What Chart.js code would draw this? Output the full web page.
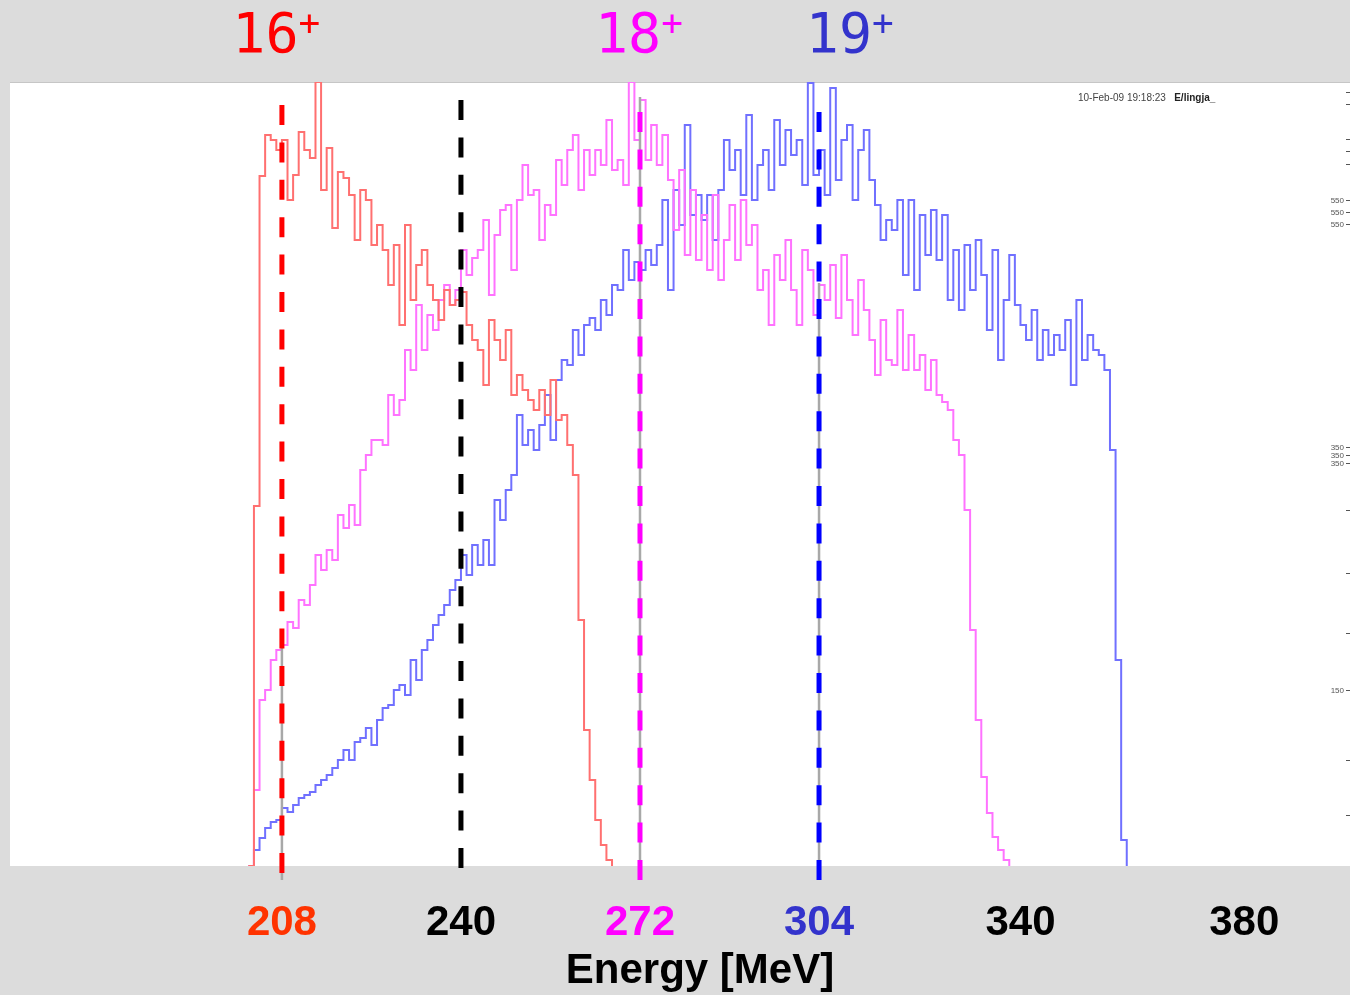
<!DOCTYPE html>
<html>
<head>
<meta charset="utf-8">
<title>Energy spectra 16+ 18+ 19+</title>
<script src="https://cdn.jsdelivr.net/npm/chart.js@4.4.1/dist/chart.umd.min.js"></script>
<style>
  html, body { margin: 0; padding: 0; background: #dcdcdc; }
  #wrap { width: 1350px; height: 995px; position: relative; }
</style>
</head>
<body>
<div id="wrap"><canvas id="chart"></canvas></div>
<script>
// Histograms use 1 MeV bins, the first bin starts at 202 MeV
const binStart = 202;

// 16+ (red)
const counts16 = [
  0, 360, 690, 731, 726, 716, 726, 666, 691, 734,
  716, 708, 784, 676, 718, 638, 694, 688, 671, 626,
  676, 666, 621, 641, 616, 581, 621, 541, 641, 566,
  601, 616, 581, 566, 546, 576, 561, 566, 574, 541,
  526, 516, 481, 546, 526, 506, 536, 471, 491, 476,
  466, 456, 476, 451, 486, 446, 451, 421, 391, 246,
  136, 86, 46, 21, 6, 0
];

// 18+ (magenta)
const counts18 = [
  0, 76, 166, 176, 206, 216, 221, 244, 238, 266,
  261, 281, 311, 296, 316, 306, 351, 338, 361, 341,
  396, 411, 426, 426, 421, 471, 451, 466, 516, 496,
  561, 516, 551, 536, 566, 581, 561, 576, 616, 591,
  608, 616, 646, 571, 631, 656, 661, 596, 666, 701,
  671, 676, 626, 661, 651, 706, 681, 716, 731, 676,
  716, 691, 716, 701, 746, 696, 706, 681, 784, 726,
  766, 706, 741, 701, 731, 686, 636, 696, 611, 676,
  606, 651, 596, 671, 586, 626, 661, 606, 666, 621,
  641, 576, 596, 541, 611, 586, 626, 576, 541, 616,
  596, 551, 581, 566, 601, 548, 611, 566, 531, 586,
  556, 526, 491, 546, 506, 501, 556, 496, 531, 496,
  511, 476, 506, 471, 464, 456, 426, 411, 356, 236,
  146, 89, 53, 29, 16, 6, 0
];

// 19+ (blue)
const counts19 = [
  0, 16, 28, 38, 44, 46, 58, 54, 61, 68,
  71, 74, 81, 86, 91, 98, 106, 116, 106, 124,
  128, 138, 121, 146, 158, 161, 176, 181, 171, 206,
  186, 216, 226, 241, 251, 261, 276, 286, 311, 291,
  321, 301, 326, 301, 366, 346, 376, 391, 451, 421,
  436, 416, 441, 471, 426, 486, 506, 501, 536, 511,
  541, 548, 536, 566, 551, 581, 576, 616, 586, 604,
  596, 616, 601, 621, 666, 576, 676, 641, 741, 651,
  671, 646, 671, 626, 676, 726, 696, 716, 671, 751,
  666, 701, 716, 676, 746, 701, 736, 711, 726, 681,
  783, 691, 716, 671, 778, 686, 726, 741, 666, 716,
  736, 686, 661, 626, 646, 636, 666, 591, 666, 576,
  651, 611, 656, 606, 651, 566, 616, 556, 621, 576,
  626, 591, 536, 616, 506, 566, 611, 561, 541, 526,
  556, 506, 536, 511, 531, 516, 546, 481, 566, 506,
  531, 516, 511, 496, 416, 206, 26, 0
];

// Charge state labels above the plot
const chargeStates = ["16", "18", "19"];
const chargeColors = ["#ff0000", "#ff00ff", "#3333cc"];
const chargeLabelEnergy = [207.0, 271.8, 309.5];

// Energy axis ticks
const tickEnergies = [208, 240, 272, 304, 340, 380];
const tickColors = ["#ff3300", "#000000", "#ff00ff", "#3333cc", "#000000", "#000000"];

// Dashed markers (energy, colour, bottom and top in counts)
const markerEnergies = [208, 240, 272, 304];
const markerColors = ["#ff0000", "#000000", "#ff00ff", "#0000ff"];
const markerBottoms = [-7, -2, -14, -14];
const markerTops = [778, 766, 771, 771];

// Grey cursor lines under the markers
const cursorEnergies = [208, 272, 304];
const cursorTops = [226, 769, 583];

// Little ticks on the right edge of the old plot
const sideTickCounts = [774, 762, 727, 715, 702, 666, 654, 642, 419, 411, 403, 356, 293, 233, 176, 106, 51];
const sideTickLabels = ["", "", "", "", "", "550", "550", "550", "350", "350", "350", "", "", "", "150", "", ""];

const stampText = "10-Feb-09 19:18:23";
const stampUser = "E/lingja_";

function toPoints(counts) {
  return counts.map((c, i) => ({ x: binStart + i, y: c }));
}

const histoStyle = {
  type: "line",
  stepped: true,
  borderWidth: 2,
  pointRadius: 0,
  fill: false,
  order: 10,
};

const datasets = [
  { ...histoStyle, label: "16+", data: toPoints(counts16), borderColor: "#ff7070" },
  { ...histoStyle, label: "18+", data: toPoints(counts18), borderColor: "#ff72ff" },
  { ...histoStyle, label: "19+", data: toPoints(counts19), borderColor: "#7070ff" },
];

cursorEnergies.forEach((e, i) => {
  datasets.push({
    type: "line",
    label: "cursor " + e,
    data: [{ x: e, y: -14 }, { x: e, y: cursorTops[i] }],
    borderColor: "#a8a8a8",
    borderWidth: 2.5,
    pointRadius: 0,
    clip: false,
    order: 5,
  });
});

markerEnergies.forEach((e, i) => {
  datasets.push({
    type: "line",
    label: "marker " + e,
    data: [{ x: e, y: markerBottoms[i] }, { x: e, y: markerTops[i] }],
    borderColor: markerColors[i],
    borderWidth: 5,
    borderDash: [20, 17.4],
    borderCapStyle: "butt",
    pointRadius: 0,
    clip: false,
    order: 1,
  });
});

// Background, white plot area and the extra texts
const decorPlugin = {
  id: "decor",
  beforeDraw(chart) {
    const { ctx, chartArea: a } = chart;
    ctx.save();
    ctx.fillStyle = "#dcdcdc";
    ctx.fillRect(0, 0, chart.width, chart.height);
    ctx.fillStyle = "#ffffff";
    ctx.fillRect(a.left, a.top, a.right - a.left, a.bottom - a.top);
    ctx.strokeStyle = "#c6c6c6";
    ctx.lineWidth = 1;
    ctx.beginPath();
    ctx.moveTo(a.left, a.top + 0.5);
    ctx.lineTo(a.right, a.top + 0.5);
    ctx.stroke();
    ctx.restore();
  },
  afterDatasetsDraw(chart) {
    const { ctx, chartArea: a, scales } = chart;
    const y = scales.y;
    ctx.save();
    // right edge ticks
    ctx.strokeStyle = "#555";
    ctx.lineWidth = 1;
    ctx.fillStyle = "#555";
    ctx.font = "8px 'Liberation Sans', Arial, sans-serif";
    ctx.textAlign = "right";
    ctx.textBaseline = "middle";
    sideTickCounts.forEach((c, i) => {
      const py = Math.round(y.getPixelForValue(c)) + 0.5;
      ctx.beginPath();
      ctx.moveTo(a.right - 4, py);
      ctx.lineTo(a.right, py);
      ctx.stroke();
      if (sideTickLabels[i]) ctx.fillText(sideTickLabels[i], a.right - 6, py);
    });
    // time stamp
    ctx.textAlign = "left";
    ctx.fillStyle = "#444";
    ctx.font = "10px 'Liberation Sans', Arial, sans-serif";
    ctx.fillText(stampText, 1078, 98);
    const w = ctx.measureText(stampText + "   ").width;
    ctx.font = "bold 10px 'Liberation Sans', Arial, sans-serif";
    ctx.fillStyle = "#222";
    ctx.fillText(stampUser, 1078 + w, 98);
    ctx.restore();
  },
  afterDraw(chart) {
    const { ctx, scales } = chart;
    const x = scales.x;
    ctx.save();
    ctx.textAlign = "left";
    ctx.textBaseline = "alphabetic";
    chargeStates.forEach((q, i) => {
      const cx = x.getPixelForValue(chargeLabelEnergy[i]);
      ctx.font = "55px 'DejaVu Sans Mono', monospace";
      const wq = ctx.measureText(q).width;
      ctx.font = "36px 'DejaVu Sans Mono', monospace";
      const wp = ctx.measureText("+").width;
      const left = cx - (wq + wp) / 2;
      ctx.fillStyle = chargeColors[i];
      ctx.font = "55px 'DejaVu Sans Mono', monospace";
      ctx.fillText(q, left, 52);
      ctx.font = "36px 'DejaVu Sans Mono', monospace";
      ctx.fillText("+", left + wq, 35);
    });
    // axis title
    ctx.fillStyle = "#000";
    ctx.textAlign = "center";
    ctx.textBaseline = "middle";
    ctx.font = "bold 42px 'Liberation Sans', Arial, sans-serif";
    ctx.fillText("Energy [MeV]", 700, 971);
    ctx.restore();
  },
};

const ctx = document.getElementById("chart").getContext("2d");
new Chart(ctx, {
  type: "line",
  data: { datasets: datasets },
  options: {
    responsive: true,
    maintainAspectRatio: false,
    animation: false,
    layout: { padding: { left: 10, top: 82, right: 0, bottom: 0 } },
    plugins: {
      legend: { display: false },
      tooltip: { enabled: false },
    },
    scales: {
      x: {
        type: "linear",
        min: 159.4,
        max: 398.9,
        grid: { display: false, drawTicks: false },
        border: { display: false },
        afterBuildTicks: (axis) => {
          axis.ticks = tickEnergies.map((v) => ({ value: v }));
        },
        afterFit: (axis) => {
          axis.height = 129;
        },
        ticks: {
          autoSkip: false,
          maxRotation: 0,
          padding: 32,
          color: (c) => tickColors[tickEnergies.indexOf(c.tick.value)],
          font: { family: "'Liberation Sans', Arial, sans-serif", size: 42, weight: "bold" },
        },
      },
      y: {
        display: false,
        min: 0,
        max: 784,
      },
    },
  },
  plugins: [decorPlugin],
});
</script>
</body>
</html>
